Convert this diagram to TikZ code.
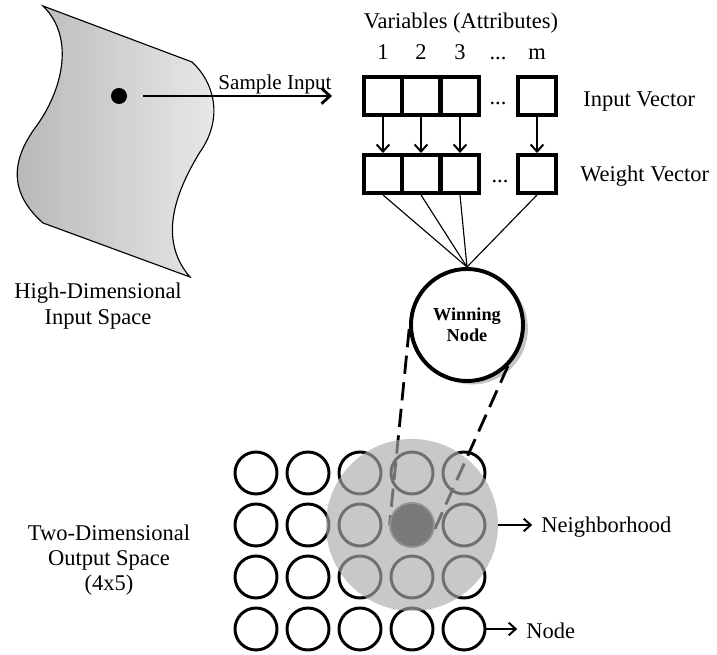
\documentclass[tikz,border=0pt]{standalone}
\usepackage{fontspec}
\setmainfont{Liberation Serif}
\usetikzlibrary{arrows.meta,shadows}

\tikzset{
	lbl/.style={font=\fontsize{16}{18}\selectfont, inner sep=0pt, align=center},
	vecbox/.style={draw, line width=2.8pt, minimum width=0.95cm, minimum height=0.95cm, inner sep=0pt},
	cell/.style={circle, draw, line width=2.1pt, minimum size=1.05cm, inner sep=0pt},
	barb/.style={-{Straight Barb[length=5pt,width=9pt]}, line width=1.4pt},
}
\newcommand\inspace{(43,6) -- (192,62) .. controls (214,82) and (224,118) .. (200,152)
	.. controls (178,188) and (156,238) .. (190,277) -- (43,223)
	.. controls (8,192) and (12,160) .. (35,128)
	.. controls (62,92) and (76,38) .. (43,6) -- cycle}

\begin{document}
\begin{tikzpicture}[x=0.025cm, y=-0.025cm]
		
		\useasboundingbox (0,0) rectangle (717,655);
		
		% input space, grey from left to right
		\begin{scope}
			\clip \inspace;
			\foreach \k in {0,...,43}{
				\pgfmathsetmacro\grey{28-20*\k/43}
				\fill[black!\grey] ({10+5*\k},0) rectangle ({15.6+5*\k},290);
			}
		\end{scope}
		\draw[line width=0.8pt] \inspace;
		\node[circle, fill=black, minimum size=0.4cm, inner sep=0pt] (sample) at (119,96) {};
		\node[lbl] (hispace) at (98,306) {High-Dimensional\\Input Space};
		
		% vectors
		\node[lbl, anchor=base] (vars) at (461,29) {Variables (Attributes)};
		\foreach \i/\x in {1/383,2/421,3/460,m/537}{
			\node[lbl, anchor=base] (num\i) at (\x,60) {\i};
			\node[vecbox] (in\i) at (\x,96) {};
			\node[vecbox] (wt\i) at (\x,174) {};
			\draw[barb] (in\i) -- (wt\i);
		}
		\node[lbl, anchor=base] (numdots) at (498,60) {...};
		\node[lbl, anchor=base] (indots) at (498,105) {...};
		\node[lbl, anchor=base] (wtdots) at (500,183) {...};
		\node[lbl, anchor=base west] (invec) at (583,107) {Input Vector};
		\node[lbl, anchor=base west] (wtvec) at (580,182) {Weight Vector};
		
		\node[lbl, font=\fontsize{15}{17}\selectfont, anchor=base] (samplelbl) at (275,90) {Sample Input};
		\draw[-{Straight Barb[length=6pt,width=11pt]}, line width=2pt, shorten <=0.4cm, shorten >=0.75cm] (sample) -- (in1.west);
		
		% winning node
		\node[circle, draw, line width=2.8pt, fill=white, minimum size=2.8cm, inner sep=0pt,
			drop shadow={shadow xshift=3.5pt, shadow yshift=-2.5pt, fill=black!45},
			font=\fontsize{13}{15}\selectfont\bfseries, align=center] (win) at (467,325) {Winning\\Node};
		\foreach \i in {1,2,3,m}
			\draw[line width=0.8pt] (wt\i.south) -- (win.north);
		
		% output grid
		\foreach \r in {1,...,4}
			\foreach \c in {1,...,5}
				\node[cell] (g\r\c) at ({256+52*(\c-1)}, {473+52*(\r-1)}) {};
		
		\draw[line width=2pt, dash pattern=on 13pt off 6pt] (win.184) -- (g24.180);
		\draw[line width=2pt, dash pattern=on 13pt off 6pt] (win.-45) -- (g24.-25);
		
		\node[circle, fill=black!33, fill opacity=0.65, minimum size=4.3cm, inner sep=0pt] (nbhd) at (g24) {};
		\node[circle, fill=black!52, draw=black!42, line width=1.2pt, minimum size=1.1cm, inner sep=0pt] (bmu) at (g24) {};
		
		\node[lbl] (outspace) at (109,560) {Two-Dimensional\\Output Space\\(4x5)};
		\node[lbl, anchor=west] (nbtext) at (541,527) {Neighborhood};
		\draw[barb, shorten >=0.22cm] (nbhd.east) -- (nbhd.east -| nbtext.west);
		\node[lbl, anchor=west] (nodetext) at (526,631) {Node};
		\draw[barb, shorten >=0.22cm] (g45.east) -- (g45.east -| nodetext.west);
		
	\end{tikzpicture}
\end{document}
